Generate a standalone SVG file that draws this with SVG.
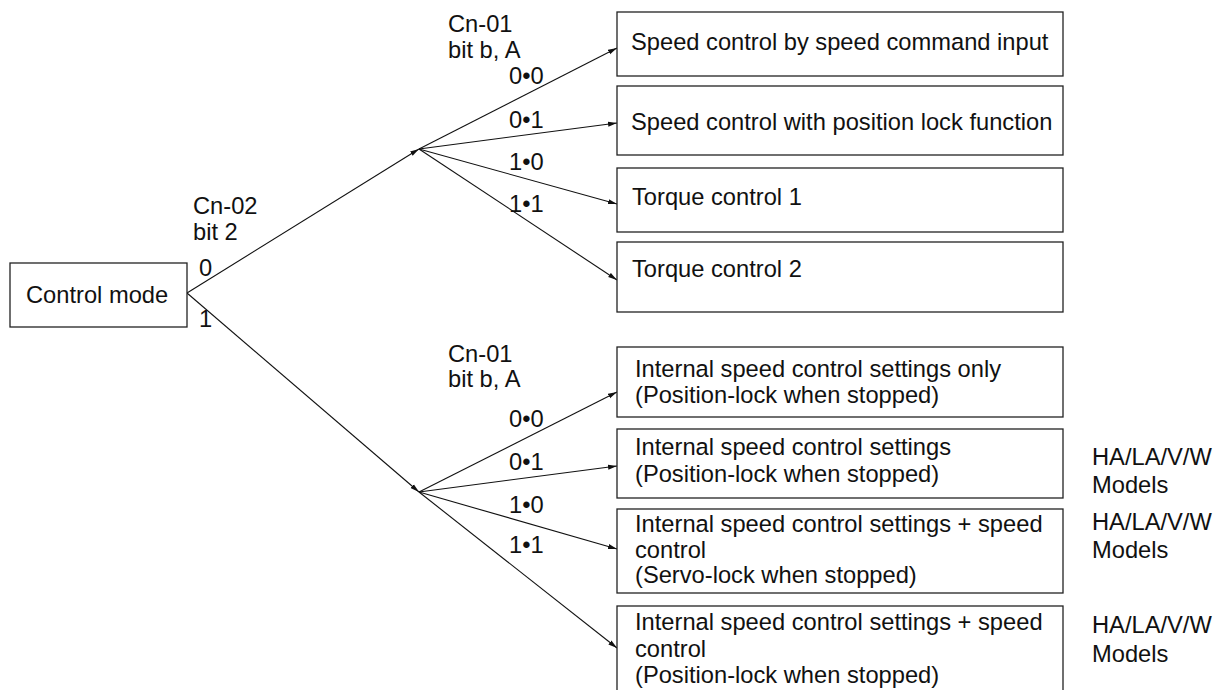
<svg xmlns="http://www.w3.org/2000/svg" width="1220" height="690" viewBox="0 0 1220 690">
<style>
text{font-family:"Liberation Sans",Arial,sans-serif;font-size:23.7px;fill:#111}
.box{fill:#fff;stroke:#222;stroke-width:1.3}
.ln{fill:none;stroke:#111;stroke-width:1.1}
</style>
<defs>
<marker id="ah" markerUnits="userSpaceOnUse" markerWidth="10" markerHeight="6" refX="9" refY="3" orient="auto">
<path d="M0,0.5 L9,3 L0,5.5 z" fill="#111"/>
</marker>
</defs>
<rect width="1220" height="690" fill="#fff"/>
<g id="connectors">
<line class="ln" x1="187" y1="293" x2="419" y2="149" marker-end="url(#ah)"/>
<line class="ln" x1="187" y1="293" x2="419" y2="492" marker-end="url(#ah)"/>
<line class="ln" x1="419" y1="149" x2="617" y2="48" marker-end="url(#ah)"/>
<line class="ln" x1="419" y1="149" x2="617" y2="123" marker-end="url(#ah)"/>
<line class="ln" x1="419" y1="149" x2="617" y2="204" marker-end="url(#ah)"/>
<line class="ln" x1="419" y1="149" x2="617" y2="280" marker-end="url(#ah)"/>
<line class="ln" x1="419" y1="492" x2="617" y2="392" marker-end="url(#ah)"/>
<line class="ln" x1="419" y1="492" x2="617" y2="466" marker-end="url(#ah)"/>
<line class="ln" x1="419" y1="492" x2="617" y2="549" marker-end="url(#ah)"/>
<line class="ln" x1="419" y1="492" x2="617" y2="648" marker-end="url(#ah)"/>
</g>
<g id="labels">
<text x="193" y="214">Cn-02</text>
<text x="193" y="240">bit 2</text>
<text x="199" y="276">0</text>
<text x="199" y="327">1</text>
<text x="448" y="32">Cn-01</text>
<text x="448" y="58">bit b, A</text>
<text x="509" y="84">0•0</text>
<text x="509" y="128">0•1</text>
<text x="509" y="170">1•0</text>
<text x="509" y="212">1•1</text>
<text x="448" y="362">Cn-01</text>
<text x="448" y="387">bit b, A</text>
<text x="509" y="427">0•0</text>
<text x="509" y="470">0•1</text>
<text x="509" y="513">1•0</text>
<text x="509" y="553">1•1</text>
<text x="1092" y="465">HA/LA/V/W</text>
<text x="1092" y="493">Models</text>
<text x="1092" y="530">HA/LA/V/W</text>
<text x="1092" y="558">Models</text>
<text x="1092" y="633">HA/LA/V/W</text>
<text x="1092" y="662">Models</text>
</g>
<g id="control-mode">
<rect class="box" x="10" y="263" width="177" height="64"/>
<text x="26" y="303">Control mode</text>
</g>
<g id="speed-cmd">
<rect class="box" x="617" y="12" width="446" height="64"/>
<text x="631" y="50">Speed control by speed command input</text>
</g>
<g id="speed-poslock">
<rect class="box" x="617" y="86" width="446" height="69"/>
<text x="631" y="130">Speed control with position lock function</text>
</g>
<g id="torque1">
<rect class="box" x="617" y="168" width="446" height="64"/>
<text x="632" y="205">Torque control 1</text>
</g>
<g id="torque2">
<rect class="box" x="617" y="242" width="446" height="70"/>
<text x="632" y="277">Torque control 2</text>
</g>
<g id="internal-only">
<rect class="box" x="617" y="347" width="446" height="70"/>
<text x="635" y="377">Internal speed control settings only</text>
<text x="635" y="403">(Position-lock when stopped)</text>
</g>
<g id="internal">
<rect class="box" x="617" y="429" width="446" height="69"/>
<text x="635" y="455">Internal speed control settings</text>
<text x="635" y="482">(Position-lock when stopped)</text>
</g>
<g id="internal-speed-servo">
<rect class="box" x="617" y="509" width="446" height="84"/>
<text x="635" y="532">Internal speed control settings + speed</text>
<text x="635" y="558">control</text>
<text x="635" y="583">(Servo-lock when stopped)</text>
</g>
<g id="internal-speed-pos">
<rect class="box" x="617" y="606" width="446" height="90"/>
<text x="635" y="630">Internal speed control settings + speed</text>
<text x="635" y="657">control</text>
<text x="635" y="683">(Position-lock when stopped)</text>
</g>
</svg>
